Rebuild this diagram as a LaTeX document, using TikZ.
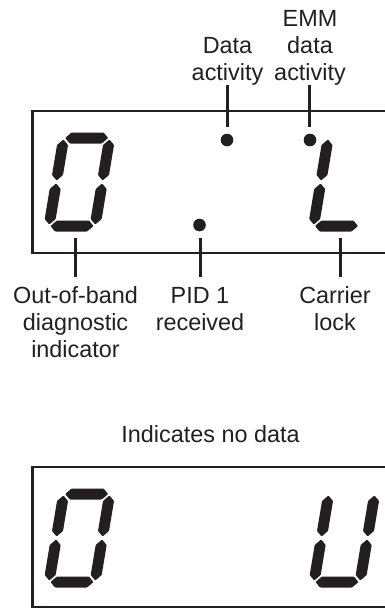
\documentclass[tikz,border=0pt]{standalone}
\usepackage{fontspec}
\setmainfont{Liberation Sans}
\definecolor{ink}{HTML}{231F20}
\tikzset{
  lbl/.style={font=\fontsize{23.4}{27}\selectfont, text=ink, align=center, inner sep=0pt, anchor=base},
  dotmark/.style={circle, fill=ink, minimum size=12.6pt, inner sep=0pt},
  boxline/.style={draw=ink, line width=2.4pt},
  leader/.style={draw=ink, line width=3pt},
  segfill/.style={fill=ink, rounded corners=0.8pt},
  digit/.style={x=1pt, y=1pt, xslant=0.167}
}
% horizontal segment: x1, x2, y
\newcommand\hsg[3]{\fill[segfill] (#1+1.5,#3) -- (#1+7,#3+5.5) -- (#2-7,#3+5.5) -- (#2-1.5,#3) -- (#2-7,#3-5.5) -- (#1+7,#3-5.5) -- cycle;}
% vertical segment: x, y1, y2
\newcommand\vsg[3]{\fill[segfill] (#1,#2+1.5) -- (#1+5.5,#2+7) -- (#1+5.5,#3-7) -- (#1,#3-1.5) -- (#1-5.5,#3-7) -- (#1-5.5,#2+7) -- cycle;}
\begin{document}
\begin{tikzpicture}[x=1pt, y=-1pt]
\useasboundingbox (0,0) rectangle (385,608);

% ---- upper display ----
\draw[boxline] (385,110.7) -| (32.3,253) -- (385,253);

% digit 0
\begin{scope}[shift={(49,226)}, digit]
  \hsg{0}{46}{88} \vsg{46}{44}{88} \vsg{46}{0}{44}
  \hsg{0}{46}{0} \vsg{0}{0}{44} \vsg{0}{44}{88}
\end{scope}
% digit L
\begin{scope}[shift={(313.5,226)}, digit]
  \hsg{0}{46}{0} \vsg{0}{0}{44} \vsg{0}{44}{88}
\end{scope}

\node[dotmark] (ddot) at (227,140) {};
\node[dotmark] (edot) at (310,140) {};
\node[dotmark] (pdot) at (199.5,225) {};

% multi-line labels: anchor base = baseline of the last line
\node[lbl] (emm) at (310,80) {EMM\\data\\activity};
\node[lbl] (data) at (227.5,80) {Data\\activity};
\node[lbl] (oob) at (75.5,357) {Out-of-band\\diagnostic\\indicator};
\node[lbl] (pid) at (200,330) {PID 1\\received};
\node[lbl] (car) at (335,330) {Carrier\\lock};

\coordinate (dtop) at (227,85);
\coordinate (etop) at (309.5,85);
\coordinate (otop) at (75,238);
\coordinate (ptop) at (200,238);
\coordinate (ctop) at (340,238);
\draw[leader] (dtop) -- (dtop |- 0,127);
\draw[leader] (etop) -- (etop |- 0,127);
\draw[leader] (otop) -- (otop |- 0,277);
\draw[leader] (ptop) -- (ptop |- 0,277);
\draw[leader] (ctop) -- (ctop |- 0,277);

% ---- lower display ----
\node[lbl] (nodata) at (210.5,442) {Indicates no data};
\draw[boxline] (385,466.7) -| (32.3,606.7) -- (385,606.7);

% digit 0
\begin{scope}[shift={(49,582)}, digit]
  \hsg{0}{46}{88} \vsg{46}{44}{88} \vsg{46}{0}{44}
  \hsg{0}{46}{0} \vsg{0}{0}{44} \vsg{0}{44}{88}
\end{scope}
% digit U
\begin{scope}[shift={(314,582)}, digit]
  \vsg{46}{44}{88} \vsg{46}{0}{44}
  \hsg{0}{46}{0} \vsg{0}{0}{44} \vsg{0}{44}{88}
\end{scope}
\end{tikzpicture}
\end{document}
